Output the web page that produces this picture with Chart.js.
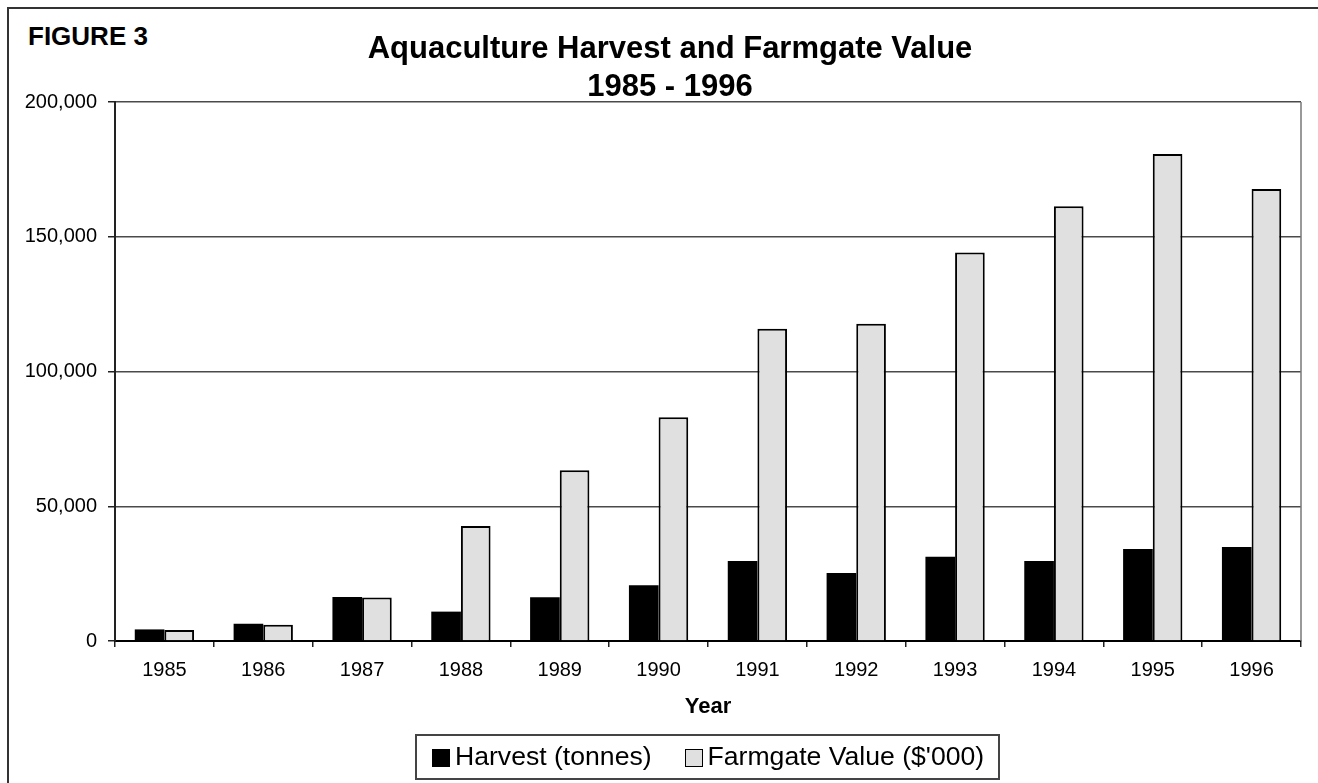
<!DOCTYPE html>
<html>
<head>
<meta charset="utf-8">
<script src="https://cdn.jsdelivr.net/npm/chart.js@4/dist/chart.umd.min.js"></script>
<style>
  html, body { margin: 0; padding: 0; background: #fff; }
  #wrap { position: relative; width: 1318px; height: 783px; overflow: hidden; }
  #frame { position: absolute; left: 7px; top: 7px; width: 1400px; height: 900px; border: 2px solid #333; box-sizing: border-box; }
  #fig { position: absolute; left: 28px; top: 23px; font: bold 26px/26px "Liberation Sans", Arial, sans-serif; color: #000; white-space: nowrap; }
  canvas { position: absolute; left: 0; top: 0; }
  #legendBox { position: absolute; border: 2px solid #444; box-sizing: border-box; }
  .lgSwatch { position: absolute; box-sizing: border-box; }
  .lgText { position: absolute; font: 26.6px/26.6px "Liberation Sans", Arial, sans-serif; color: #000; white-space: nowrap; }
</style>
</head>
<body>
<div id="wrap">
  <div id="frame"></div>
  <div id="fig">FIGURE 3</div>
  <canvas id="c" width="1318" height="783"></canvas>
  <div id="legendBox"></div>
</div>
<script>
const years = ['1985','1986','1987','1988','1989','1990','1991','1992','1993','1994','1995','1996'];
const harvestTonnes = [4300, 6400, 16300, 10900, 16200, 20700, 29700, 25200, 31300, 29700, 34100, 34900];
const farmgateValue = [4100, 6000, 16100, 42700, 63400, 83000, 115900, 117700, 144200, 161300, 180700, 167700];
const seriesNames = ['Harvest (tonnes)', "Farmgate Value ($'000)"];
const seriesColors = ['#000000', '#e0e0e0'];
const titleLines = ['Aquaculture Harvest and Farmgate Value', '1985 - 1996'];
const xTitle = 'Year';
const yTicks = [0, 50000, 100000, 150000, 200000];

const FONT = '"Liberation Sans", Arial, sans-serif';

const framePlugin = {
  id: 'framePlugin',
  afterDraw(chart) {
    const ctx = chart.ctx;
    const a = chart.chartArea;
    ctx.save();
    ctx.strokeStyle = '#777';
    ctx.lineWidth = 1.5;
    ctx.beginPath();
    ctx.moveTo(a.right, a.top);
    ctx.lineTo(a.right, a.bottom);
    ctx.stroke();
    ctx.restore();
  }
};

const chart = new Chart(document.getElementById('c'), {
  type: 'bar',
  data: {
    labels: years,
    datasets: [
      { label: seriesNames[0], data: harvestTonnes, backgroundColor: seriesColors[0], borderColor: '#000000', borderWidth: 0,
        categoryPercentage: 0.6, barPercentage: 1.0 },
      { label: seriesNames[1], data: farmgateValue, backgroundColor: seriesColors[1], borderColor: '#000000', borderWidth: 2,
        categoryPercentage: 0.6, barPercentage: 1.0 }
    ]
  },
  options: {
    responsive: false,
    devicePixelRatio: 1,
    animation: false,
    layout: { padding: { left: 39, right: 17, top: 0, bottom: 0 } },
    plugins: {
      title: {
        display: true,
        text: titleLines,
        color: '#000',
        font: { family: FONT, size: 31, weight: 'bold', lineHeight: 1.226 },
        padding: { top: 30, bottom: -4 }
      },
      legend: { display: false },
      tooltip: { enabled: false }
    },
    scales: {
      x: {
        grid: { display: true, drawOnChartArea: false, drawTicks: true, tickLength: 6, offset: true, color: '#222', lineWidth: 1.5 },
        border: { display: true, color: '#000', width: 2 },
        ticks: { color: '#000', font: { family: FONT, size: 20 }, padding: 11 },
        title: { display: true, text: xTitle, color: '#000', font: { family: FONT, size: 22, weight: 'bold', lineHeight: 20 / 22 }, padding: { top: 0, bottom: 66 } },
        afterFit(scale) { scale.height = 142; }
      },
      y: {
        min: 0,
        max: 200000,
        afterBuildTicks(scale) { scale.ticks = yTicks.map(v => ({ value: v })); },
        grid: { color: '#4a4a4a', lineWidth: 1.5, tickLength: 7, tickColor: '#222' },
        border: { display: true, color: '#222', width: 2 },
        ticks: { color: '#000', font: { family: FONT, size: 20 }, padding: 11,
          callback: v => Number(v).toLocaleString('en-US') },
        afterFit(scale) {
          scale.width = 76;
          scale._computeLabelArea = function () { return undefined; };
        }
      }
    }
  },
  plugins: [framePlugin]
});

// Legend (HTML, built from the series names and colours)
(function buildLegend() {
  const wrap = document.getElementById('wrap');
  const box = document.getElementById('legendBox');
  const mctx = document.createElement('canvas').getContext('2d');
  mctx.font = '26.6px "Liberation Sans", Arial, sans-serif';
  const boxLeft = 415, boxTop = 734, boxBottom = 780;
  let x = boxLeft + 17;
  seriesNames.forEach((name, i) => {
    const sw = document.createElement('div');
    sw.className = 'lgSwatch';
    sw.style.left = x + 'px';
    sw.style.top = '749px';
    sw.style.width = '18px';
    sw.style.height = '18px';
    sw.style.background = seriesColors[i];
    sw.style.border = '1.5px solid #000';
    wrap.appendChild(sw);
    const tx = document.createElement('div');
    tx.className = 'lgText';
    tx.textContent = name;
    tx.style.left = (x + 23) + 'px';
    tx.style.top = '742.5px';
    wrap.appendChild(tx);
    x = x + 23 + mctx.measureText(name).width + 33;
  });
  const right = x - 33 + 16;
  box.style.left = boxLeft + 'px';
  box.style.top = boxTop + 'px';
  box.style.width = (right - boxLeft) + 'px';
  box.style.height = (boxBottom - boxTop) + 'px';
})();
</script>
</body>
</html>
